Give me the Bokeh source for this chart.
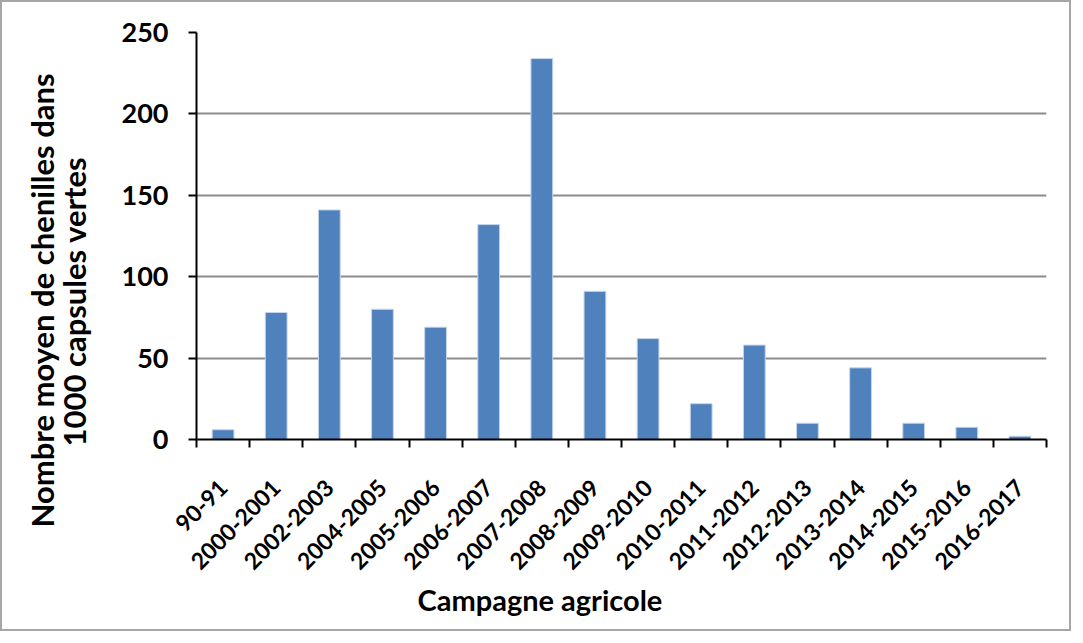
import math
import numpy as np
from bokeh.plotting import figure
from bokeh.models import Range1d, FixedTicker, Title, ColumnDataSource
from bokeh.embed import file_html
from bokeh.resources import INLINE

categories = ["90-91", "2000-2001", "2002-2003", "2004-2005", "2005-2006", "2006-2007",
              "2007-2008", "2008-2009", "2009-2010", "2010-2011", "2011-2012", "2012-2013",
              "2013-2014", "2014-2015", "2015-2016", "2016-2017"]
values = [6, 78, 141, 80, 69, 132, 234, 91, 62, 22, 58, 10, 44, 10, 7.5, 2]
y_ticks = [0, 50, 100, 150, 200, 250]
y_title_1 = "Nombre moyen de chenilles dans"
y_title_2 = "1000 capsules vertes"
x_title = "Campagne agricole"

n = len(categories)
centers = [i + 0.5 for i in range(n)]
bounds = list(range(n + 1))

FONT = "Lato"

p = figure(width=1071, height=631, output_backend="svg", toolbar_location=None,
           x_range=Range1d(0, n), y_range=Range1d(0, 250),
           min_border_left=194, min_border_right=27, min_border_top=30, min_border_bottom=194)
p.styles = {"border": "2px solid #a6a6a6"}
p.outline_line_color = None
p.background_fill_color = "white"
p.border_fill_color = "white"

src = ColumnDataSource(dict(x=centers, top=values))
p.vbar(x="x", top="top", width=0.41, bottom=0, source=src,
       fill_color="#4f81bd", line_color="#c6d5ea", line_width=1)

# x axis
p.xaxis.ticker = FixedTicker(ticks=centers, minor_ticks=bounds)
p.xaxis.major_label_overrides = {c: lab for c, lab in zip(centers, categories)}
p.xaxis.major_label_orientation = math.pi / 4
p.xaxis.major_tick_out = 0
p.xaxis.major_tick_in = 0
p.xaxis.minor_tick_out = 8
p.xaxis.minor_tick_in = 0
p.xaxis.minor_tick_line_color = "black"
p.xaxis.minor_tick_line_width = 2
p.xaxis.axis_line_color = "black"
p.xaxis.axis_line_width = 2
p.xaxis.major_label_text_font = FONT
p.xaxis.major_label_text_font_style = "bold"
p.xaxis.major_label_text_font_size = "23px"
p.xaxis.major_label_text_color = "black"
p.xaxis.major_label_standoff = 36
p.xgrid.grid_line_color = None

# y axis
p.yaxis.ticker = FixedTicker(ticks=y_ticks)
p.yaxis.major_tick_out = 8
p.yaxis.major_tick_in = 0
p.yaxis.minor_tick_line_color = None
p.yaxis.major_tick_line_color = "black"
p.yaxis.major_tick_line_width = 2
p.yaxis.axis_line_color = "black"
p.yaxis.axis_line_width = 2
p.yaxis.major_label_text_font = FONT
p.yaxis.major_label_text_font_style = "bold"
p.yaxis.major_label_text_font_size = "27px"
p.yaxis.major_label_text_color = "black"
p.yaxis.major_label_standoff = 20
p.ygrid.grid_line_color = "#8c8c8c"
p.ygrid.grid_line_width = 2

# axis titles (later-added titles sit further from the frame)
for txt, so, off in [(y_title_2, 51, -7), (y_title_1, -66, -88)]:
    p.add_layout(Title(text=txt, align="left", offset=off, standoff=so,
                       text_font=FONT, text_font_style="bold",
                       text_font_size="31px", text_color="black"), "left")
p.add_layout(Title(text=x_title, align="left", offset=221, standoff=-2,
                   text_font=FONT, text_font_style="bold",
                   text_font_size="29px", text_color="black"), "below")

open("out.html", "w").write(file_html(p, INLINE))
